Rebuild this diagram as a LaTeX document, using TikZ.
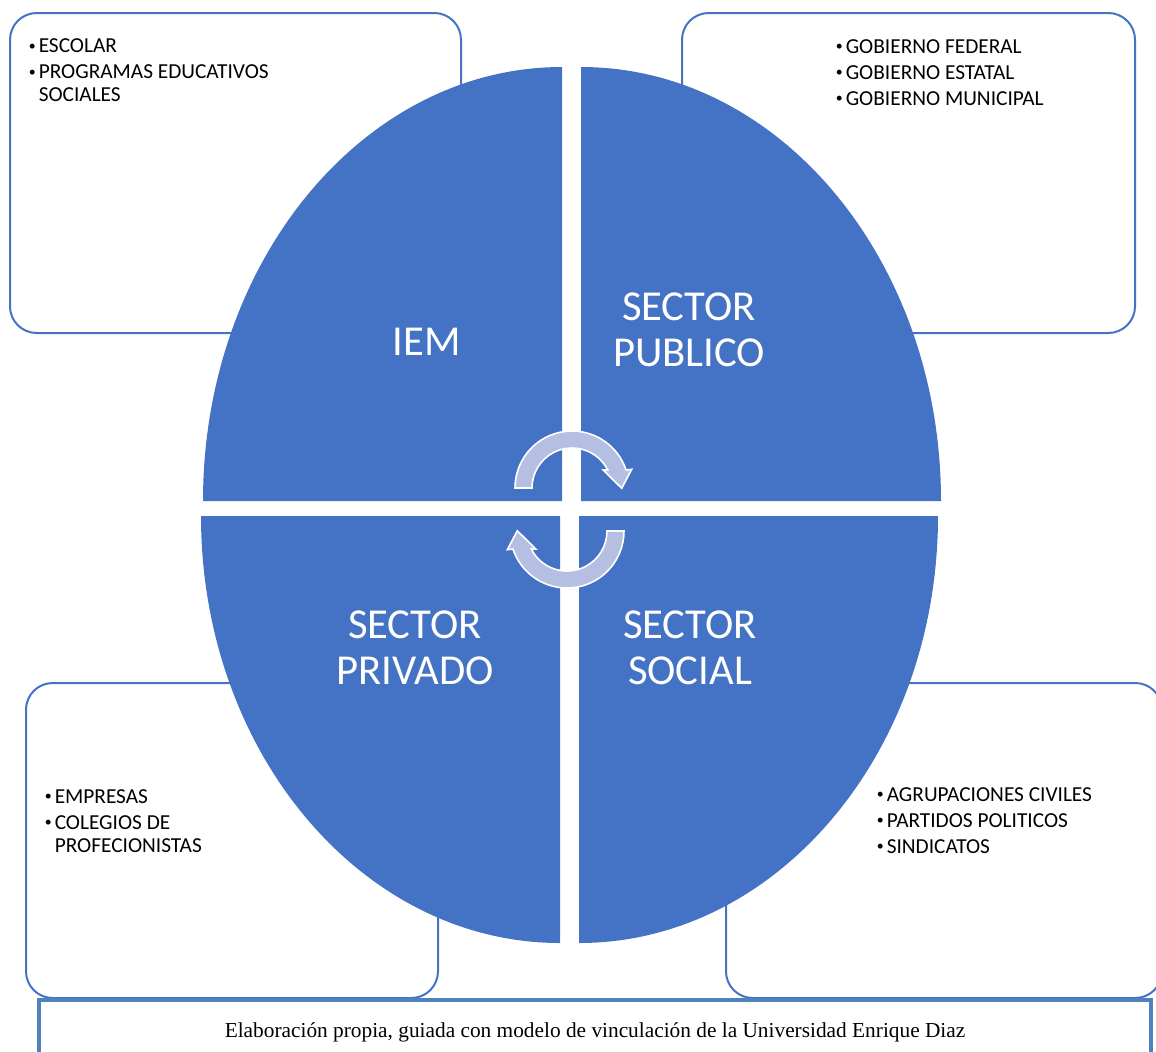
\documentclass[tikz,border=0pt]{standalone}
\usepackage{fontspec}
\setmainfont{Carlito}
\newfontfamily\notafont{Liberation Serif}
\usetikzlibrary{calc}
\definecolor{cuadazul}{HTML}{4472C4}
\definecolor{cajaazul}{HTML}{4472C4}
\definecolor{notaazul}{HTML}{4F81BD}
\definecolor{flechaclara}{HTML}{B4BFE2}
\tikzset{
	caja/.style={draw=cajaazul, line width=1.5pt, rounded corners=20pt},
	lista/.style={anchor=base west, inner sep=0pt, align=left, font=\fontsize{16}{17.25}\selectfont},
	sector/.style={text=white, align=center, inner sep=0pt, font=\fontsize{32}{34.5}\selectfont},
}
\newcommand{\itm}{\makebox[7.5pt][l]{\raisebox{1.9pt}{\scalebox{0.65}{•}}}}
\newcommand{\sig}{\hspace*{7.5pt}}
% flecha circular: centro, giro
\def\flechaciclo(#1)(#2){\begin{scope}[shift={(#1)}, rotate=#2]
	\filldraw[fill=flechaclara, draw=white, line width=1.2pt] (180:57) arc[start angle=180, end angle=341.6, radius=57] -- (59.7,-18.7) -- (49.7,0.3) -- (31.3,-18) -- (333.3:40) arc[start angle=333.3, end angle=180, radius=40] -- cycle;
	\end{scope}}

\begin{document}
\begin{tikzpicture}[x=0.75pt, y=-0.75pt]
			%%%%% START %%%%%
			\useasboundingbox (0,0) rectangle (1156,1051);
			\clip (0,0) rectangle (1156,1051);
			
			% cajas de fondo
			\draw[caja] (10,13) rectangle (461,333);
			\draw[caja] (682,13) rectangle (1135,333);
			\draw[caja] (26,683) rectangle (438,998);
			\draw[caja] (726,683) rectangle (1162,998);
			
			% cuadrantes
			\fill[cuadazul] (562,501) -- (203,501) arc[start angle=180, end angle=270, x radius=359, y radius=434] -- cycle;
			\fill[cuadazul] (581,501) -- (581,67) arc[start angle=270, end angle=360, x radius=360, y radius=434] -- cycle;
			\fill[cuadazul] (579,516) -- (938,516) arc[start angle=0, end angle=90, x radius=359, y radius=427] -- cycle;
			\fill[cuadazul] (560,516) -- (560,943) arc[start angle=90, end angle=180, x radius=359, y radius=427] -- cycle;
			
			\flechaciclo(572,488)(0)
			\flechaciclo(567,531)(180)
			
			\node[sector] (iem) at (427,341.5) {IEM};
			\node[sector] (publico) at (689,330) {SECTOR\\PUBLICO};
			\node[sector] (privado) at (415,647.5) {SECTOR\\PRIVADO};
			\node[sector] (social) at (690,647.5) {SECTOR\\SOCIAL};
			
			% listas (ancladas en la ultima linea)
			\node[lista] (escolar) at (28.5,101.7) {\itm ESCOLAR\\[2.25pt]\itm PROGRAMAS EDUCATIVOS\\\sig SOCIALES};
			\node[lista] (gobierno) at (835.5,105) {\itm GOBIERNO FEDERAL\\[2.25pt]\itm GOBIERNO ESTATAL\\[2.25pt]\itm GOBIERNO MUNICIPAL};
			\node[lista] (empresas) at (44.5,852) {\itm EMPRESAS\\[2.25pt]\itm COLEGIOS DE\\\sig PROFECIONISTAS};
			\node[lista] (civiles) at (876.5,853) {\itm AGRUPACIONES CIVILES\\[2.25pt]\itm PARTIDOS POLITICOS\\[2.25pt]\itm SINDICATOS};
			
			% nota
			\draw[notaazul, line width=3pt] (39,1000) rectangle (1151,1075);
			\node[anchor=base, inner sep=0pt, font=\notafont\fontsize{16}{19}\selectfont] (fuente) at (595,1037) {Elaboración propia, guiada con modelo de vinculación de la Universidad Enrique Diaz};
			%%%%% END %%%%%
\end{tikzpicture}
\end{document}
